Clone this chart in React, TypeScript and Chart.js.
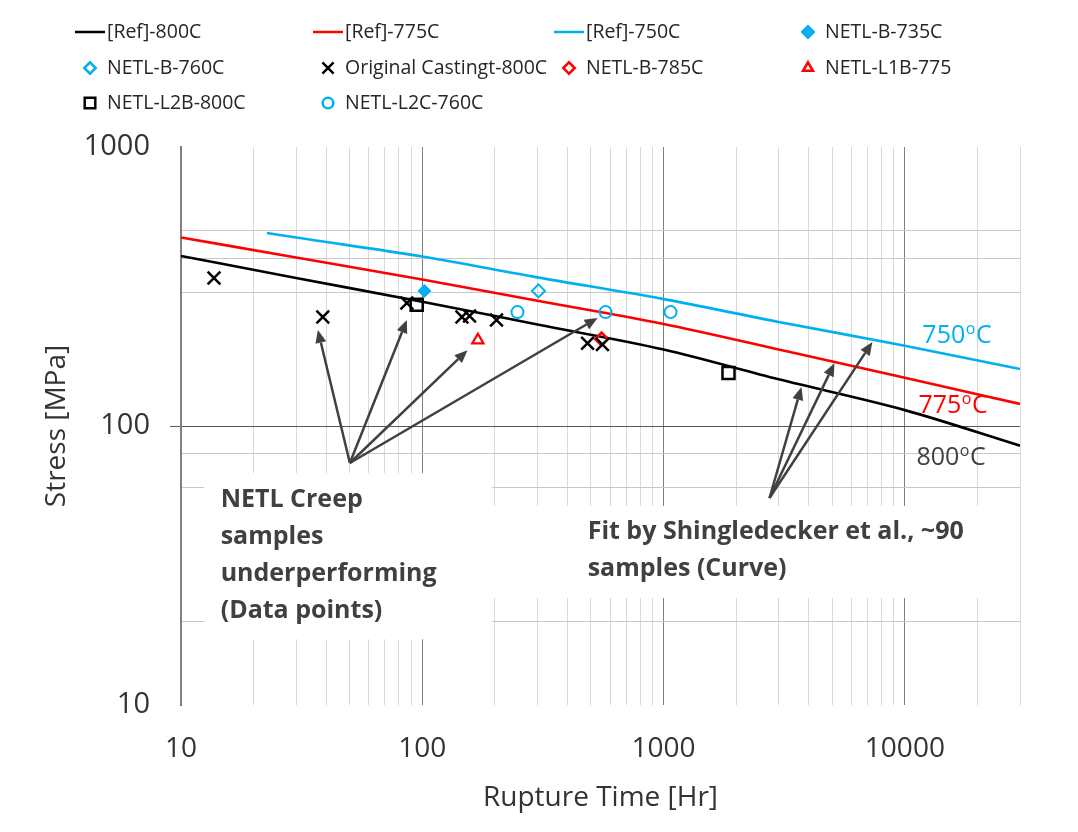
import React, { useEffect, useRef } from "react";
import { Chart, registerables } from "chart.js";
import { drawPoint } from "chart.js/helpers";

Chart.register(...registerables);

// ---------- data ----------
const refTimes = [10, 30, 100, 300, 1000, 3000, 10000, 30000];
const ref800Stress = [407, 339, 279, 231, 188, 147, 114, 85];
const ref775Stress = [474, 402, 335, 281, 232, 188, 149, 120];
const ref750Times = [22.7, 30, 100, 300, 1000, 3000, 10000, 30000];
const ref750Stress = [492, 474, 405, 341, 285, 236, 194, 160];

const b735Times = [102];
const b735Stress = [305];
const b760Times = [303];
const b760Stress = [305];
const castTimes = [13.7, 38.7, 86.3, 146, 157, 203, 484, 558];
const castStress = [339, 246, 276, 246, 248, 240, 198, 196];
const b785Times = [553];
const b785Stress = [205];
const l1bTimes = [170];
const l1bStress = [203];
const l2bTimes = [94.8, 1858];
const l2bStress = [272, 155];
const l2cTimes = [248, 575, 1069];
const l2cStress = [256, 256, 256];

const xMajorTicks = [10, 100, 1000, 10000];
const yMajorTicks = [10, 100, 1000];
const yMinorGrid = [20, 60, 80, 300, 400, 500];

const xTickValues: number[] = [];
for (const d of [10, 100, 1000, 10000]) {
  for (let m = 1; m <= 9; m++) {
    if (d * m <= 30000) xTickValues.push(d * m);
  }
}
const yTickValues: number[] = [];
for (const d of [10, 100]) {
  for (let m = 1; m <= 9; m++) yTickValues.push(d * m);
}
yTickValues.push(1000);

// annotations (data coordinates)
const noteBoxes = [
  {
    t0: 12.5, t1: 194, s0: 67.8, s1: 17.2,
    textT: 14.6, textS: 54.3,
    lines: ["NETL Creep", "samples", "underperforming", "(Data points)"],
  },
  {
    t0: 194, t1: 28950, s0: 51.7, s1: 24.2,
    textT: 484.6, textS: 41.7,
    lines: ["Fit by Shingledecker et al., ~90", "samples (Curve)"],
  },
];

const arrowGroups = [
  { from: [50.1, 73.7], to: [[36.9, 221], [86.3, 240], [154, 187], [533, 244]] },
  { from: [2748, 55.2], to: [[3727, 138], [5105, 168], [7334, 200]] },
];

const BLUE = "#00b0f0";
const RED = "#ff0000";
const BLACK = "#000000";
const NONE = "rgba(0,0,0,0)";

const curveLabels = [
  { text: "750", t: 11817, s: 210, color: BLUE },
  { text: "775", t: 11376, s: 118, color: RED },
  { text: "800", t: 11160, s: 76.8, color: "#404040" },
];

const FONT = '"Open Sans", "DejaVu Sans", sans-serif';

const pts = (xs: number[], ys: number[]) => xs.map((x, i) => ({ x, y: ys[i] }));

function lineSet(label: string, xs: number[], ys: number[], color: string) {
  return {
    label,
    data: pts(xs, ys),
    showLine: true,
    borderColor: color,
    backgroundColor: color,
    borderWidth: 2.6,
    pointRadius: 0,
    cubicInterpolationMode: "monotone" as const,
    fill: false,
    order: 1,
  };
}

function pointSet(
  label: string, xs: number[], ys: number[], style: string,
  radius: number, stroke: string, fillC: string, bw: number
) {
  return {
    label,
    data: pts(xs, ys),
    showLine: false,
    pointStyle: style,
    pointRadius: radius,
    pointBorderWidth: bw,
    pointBorderColor: stroke,
    pointBackgroundColor: fillC,
    borderColor: stroke,
    backgroundColor: fillC,
    borderWidth: bw,
    order: 0,
  };
}

const legendCols = [90, 328, 569, 808];
const legendRows = [32, 68, 103];

const annotationPlugin = {
  id: "annotations",
  beforeDatasetsDraw(chart: any) {
    const { ctx, scales } = chart;
    const xs = scales.x, ys = scales.y;
    ctx.save();
    ctx.fillStyle = "#ffffff";
    for (const b of noteBoxes) {
      const x0 = xs.getPixelForValue(b.t0);
      const x1 = xs.getPixelForValue(b.t1);
      const y0 = ys.getPixelForValue(b.s0);
      const y1 = ys.getPixelForValue(b.s1);
      ctx.fillRect(x0, y0, x1 - x0, y1 - y0);
    }
    ctx.restore();
  },
  afterDatasetsDraw(chart: any) {
    const { ctx, scales } = chart;
    const xs = scales.x, ys = scales.y;
    ctx.save();
    // box texts
    ctx.fillStyle = "#404040";
    ctx.font = `bold 25px ${FONT}`;
    ctx.textBaseline = "middle";
    ctx.textAlign = "left";
    for (const b of noteBoxes) {
      const tx = xs.getPixelForValue(b.textT);
      const ty = ys.getPixelForValue(b.textS);
      b.lines.forEach((ln, i) => ctx.fillText(ln, tx, ty + i * 37));
    }
    // arrows
    ctx.strokeStyle = "#404040";
    ctx.fillStyle = "#404040";
    ctx.lineWidth = 2.5;
    for (const g of arrowGroups) {
      const fx = xs.getPixelForValue(g.from[0]);
      const fy = ys.getPixelForValue(g.from[1]);
      for (const t of g.to) {
        const tx = xs.getPixelForValue(t[0]);
        const ty = ys.getPixelForValue(t[1]);
        const ang = Math.atan2(ty - fy, tx - fx);
        const head = 13, hw = 5.5;
        const bx = tx - head * Math.cos(ang);
        const by = ty - head * Math.sin(ang);
        ctx.beginPath();
        ctx.moveTo(fx, fy);
        ctx.lineTo(bx, by);
        ctx.stroke();
        ctx.beginPath();
        ctx.moveTo(tx, ty);
        ctx.lineTo(bx + hw * Math.sin(ang), by - hw * Math.cos(ang));
        ctx.lineTo(bx - hw * Math.sin(ang), by + hw * Math.cos(ang));
        ctx.closePath();
        ctx.fill();
      }
    }
    // curve labels with superscript o
    for (const l of curveLabels) {
      const x = xs.getPixelForValue(l.t);
      const y = ys.getPixelForValue(l.s);
      ctx.fillStyle = l.color;
      ctx.font = `25px ${FONT}`;
      ctx.fillText(l.text, x, y);
      const w1 = ctx.measureText(l.text).width;
      ctx.font = `16px ${FONT}`;
      ctx.fillText("o", x + w1 + 0.5, y - 7);
      const w2 = ctx.measureText("o").width;
      ctx.font = `25px ${FONT}`;
      ctx.fillText("C", x + w1 + w2 + 1, y);
    }
    ctx.restore();
  },
  afterDraw(chart: any) {
    const { ctx } = chart;
    ctx.save();
    ctx.textBaseline = "middle";
    ctx.textAlign = "left";
    chart.data.datasets.forEach((ds: any, i: number) => {
      const cx = legendCols[i % 4];
      const cy = legendRows[Math.floor(i / 4)];
      if (ds.showLine) {
        ctx.strokeStyle = ds.borderColor;
        ctx.lineWidth = 2.5;
        ctx.beginPath();
        ctx.moveTo(cx - 15, cy);
        ctx.lineTo(cx + 15, cy);
        ctx.stroke();
      } else {
        ctx.strokeStyle = ds.pointBorderColor;
        ctx.fillStyle = ds.pointBackgroundColor;
        drawPoint(ctx, {
          pointStyle: ds.pointStyle,
          radius: ds.pointRadius * 0.88,
          rotation: 0,
          borderWidth: ds.pointBorderWidth + 0.3,
        } as any, cx, cy);
      }
      ctx.fillStyle = "#262626";
      ctx.font = `19.5px ${FONT}`;
      ctx.fillText(ds.label, cx + 17, cy);
    });
    ctx.restore();
  },
};

export default function App() {
  const ref = useRef<HTMLCanvasElement>(null);
  useEffect(() => {
    const canvas = ref.current;
    if (!canvas) return;
    Chart.defaults.font.family = FONT;
    const chart = new Chart(canvas, {
      type: "scatter",
      data: {
        datasets: [
          lineSet("[Ref]-800C", refTimes, ref800Stress, BLACK),
          lineSet("[Ref]-775C", refTimes, ref775Stress, RED),
          lineSet("[Ref]-750C", ref750Times, ref750Stress, BLUE),
          pointSet("NETL-B-735C", b735Times, b735Stress, "rectRot", 6.5, BLUE, BLUE, 1),
          pointSet("NETL-B-760C", b760Times, b760Stress, "rectRot", 6.5, BLUE, NONE, 2),
          pointSet("Original Castingt-800C", castTimes, castStress, "crossRot", 9, BLACK, NONE, 2.5),
          pointSet("NETL-B-785C", b785Times, b785Stress, "rectRot", 6.5, RED, NONE, 2.5),
          pointSet("NETL-L1B-775", l1bTimes, l1bStress, "triangle", 6.5, RED, NONE, 2.2),
          pointSet("NETL-L2B-800C", l2bTimes, l2bStress, "rect", 8.5, BLACK, NONE, 2.5),
          pointSet("NETL-L2C-760C", l2cTimes, l2cStress, "circle", 6, BLUE, NONE, 2),
        ] as any,
      },
      options: {
        responsive: false,
        animation: false,
        events: [],
        layout: { padding: { top: 147, right: 58, bottom: 0, left: 0 } },
        plugins: {
          legend: { display: false },
          tooltip: { enabled: false },
        },
        scales: {
          x: {
            type: "logarithmic",
            min: 10,
            max: 30000,
            afterBuildTicks: (s: any) => {
              s.ticks = xTickValues.map((v) => ({ value: v }));
            },
            afterFit: (s: any) => {
              s.height = 127;
            },
            border: { display: false },
            grid: {
              drawTicks: false,
              lineWidth: 1,
              color: (c: any) => {
                const v = c.tick ? c.tick.value : 0;
                if (v === 10) return NONE;
                return xMajorTicks.includes(v) ? "#808080" : "#d9d9d9";
              },
            },
            ticks: {
              autoSkip: false,
              maxRotation: 0,
              minRotation: 0,
              padding: 27,
              color: "#333333",
              font: { size: 28, family: FONT },
              callback: (v: any) => (xMajorTicks.includes(Number(v)) ? String(v) : ""),
            },
            title: {
              display: true,
              text: "Rupture Time [Hr]",
              color: "#333333",
              font: { size: 28, family: FONT },
              padding: { top: 0, bottom: 17 },
            },
          },
          y: {
            type: "logarithmic",
            min: 10,
            max: 1000,
            afterBuildTicks: (s: any) => {
              s.ticks = yTickValues.map((v) => ({ value: v }));
            },
            afterFit: (s: any) => {
              s.width = 181;
            },
            border: { display: true, color: "#808080", width: 2 },
            grid: {
              drawTicks: true,
              tickLength: 11,
              lineWidth: 1,
              color: (c: any) => {
                const v = c.tick ? c.tick.value : 0;
                if (v === 100) return "#595959";
                return yMinorGrid.includes(v) ? "#c8c8c8" : NONE;
              },
              tickColor: (c: any) => {
                const v = c.tick ? c.tick.value : 0;
                return v === 100 ? "#595959" : NONE;
              },
            },
            ticks: {
              autoSkip: false,
              padding: 20,
              color: "#333333",
              font: { size: 29, family: FONT },
              callback: (v: any) => (yMajorTicks.includes(Number(v)) ? String(v) : ""),
            },
            title: {
              display: true,
              text: "Stress [MPa]",
              color: "#333333",
              font: { size: 28, family: FONT },
              padding: { top: 40, bottom: 0 },
            },
          },
        },
      } as any,
      plugins: [annotationPlugin],
    });
    return () => chart.destroy();
  }, []);

  return (
    <div style={{ position: "absolute", left: 0, top: 0, width: 1078, height: 832, background: "#ffffff" }}>
      <canvas ref={ref} width={1078} height={832} style={{ display: "block" }} />
    </div>
  );
}
